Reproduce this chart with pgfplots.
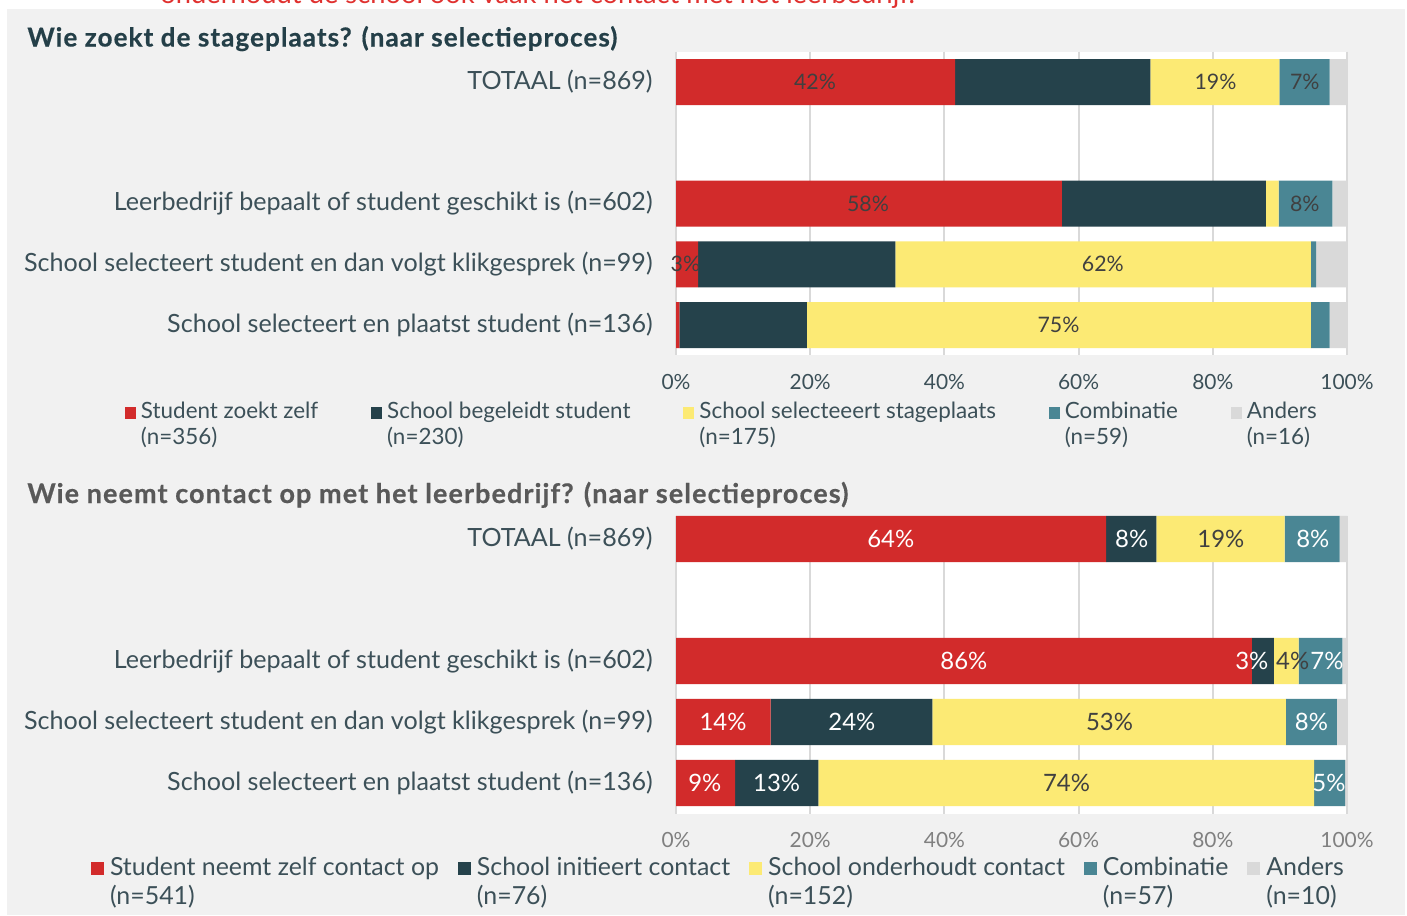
\documentclass[border=0pt]{standalone}
\usepackage{fontspec}
\setmainfont{Lato}
\newfontfamily\titlefont{Lato}[LetterSpace=4.0, BoldFeatures={FakeBold=0.5}]
\usepackage{pgfplots}
\pgfplotsset{compat=1.18}
\usepackage{pgfplotstable}

\definecolor{cRed}{HTML}{D22B2B}
\definecolor{cDark}{HTML}{25424B}
\definecolor{cYel}{HTML}{FCEA74}
\definecolor{cTeal}{HTML}{4A8694}
\definecolor{cGrey}{HTML}{D9D9D9}
\definecolor{bgc}{HTML}{F1F1F1}
\definecolor{slate}{HTML}{3C5058}
\definecolor{titleA}{HTML}{243F48}
\definecolor{titleB}{HTML}{595959}
\definecolor{labc}{HTML}{404040}
\definecolor{tickB}{HTML}{808080}
\definecolor{topred}{HTML}{E0312F}

% Panel 1: Wie zoekt de stageplaats?  (y: 0 TOTAAL, 2,3,4 categories)
\pgfplotstableread{
y a b c d e
0 41.6 29.1 19.2 7.5 2.6
2 57.5 30.4 1.9 8.0 2.2
3 3.3 29.4 61.9 0.8 4.6
4 0.5 19.0 75.1 2.8 2.6
}\dataA
\pgfplotstableread{
x y v
20.7 0 42
80.4 0 19
93.7 0 7
28.6 2 58
93.7 2 8
1.4 3 3
63.6 3 62
57.0 4 75
}\labA

% Panel 2: Wie neemt contact op met het leerbedrijf?
\pgfplotstableread{
y a b c d e
0 64.1 7.5 19.1 8.2 1.1
2 85.8 3.3 3.7 6.5 0.7
3 14.1 24.1 52.7 7.6 1.5
4 8.8 12.4 73.9 4.6 0.3
}\dataB
\pgfplotstableread{
x y v
32.0 0 64
67.9 0 8
94.9 0 8
42.9 2 86
85.8 2 3
97.0 2 7
7.0 3 14
26.2 3 24
94.7 3 8
4.3 4 9
15.0 4 13
97.3 4 5
}\labBw
\pgfplotstableread{
x y v
81.2 0 19
91.9 2 4
64.6 3 53
58.2 4 74
}\labBd

\pgfplotsset{
  panel/.style={
    scale only axis, width=335.5bp, xmin=0, xmax=100, ymax=4.5,
    y dir=reverse, clip=false,
    axis line style={draw=none}, tick style={draw=none},
    major tick length=0pt,
    xtick={0,20,40,60,80,100},
    xticklabel={\pgfmathprintnumber{\tick}\%},
    ytick={0,2,3,4},
    yticklabels={TOTAAL (n=869),Leerbedrijf bepaalt of student geschikt is (n=602),School selecteert student en dan volgt klikgesprek (n=99),School selecteert en plaatst student (n=136)},
    yticklabel style={anchor=east, inner sep=0pt, xshift=-11.5bp, font=\fontsize{12.6}{14}\selectfont, text=slate},
    xmajorgrids, grid style={cGrey, line width=1bp},
    axis background/.style={fill=white},
    /pgf/number format/assume math mode=true,
    xbar stacked, bar width=0.757,
    legend columns=5,
  },
  labels/.style={
    scale only axis, width=335.5bp, xmin=0, xmax=100, ymax=4.5,
    y dir=reverse, clip=false, hide axis,
    /pgf/number format/assume math mode=true,
  },
}

\begin{document}
\begin{tikzpicture}
\begin{scope}[x=0.5bp,y=-0.5bp]
\useasboundingbox (0,0) rectangle (1407,915);
\fill[white] (0,0) rectangle (1407,915);
\fill[bgc] (7,9) rectangle (1405,915);
\node[anchor=base west, inner sep=0pt, text=topred, font=\fontsize{13.7}{16}\selectfont] at (160,3.5) {onderhoudt de school ook vaak het contact met het leerbedrijf.};
\node[anchor=base west, inner sep=0pt, text=titleA, font=\titlefont\fontsize{13.1}{15}\selectfont\bfseries] at (27,46.5) {Wie zoekt de stageplaats? (naar selectieproces)};
\node[anchor=base west, inner sep=0pt, text=titleB, font=\titlefont\fontsize{13.55}{15}\selectfont\bfseries] at (27,503) {Wie neemt contact op met het leerbedrijf? (naar selectieproces)};
\end{scope}

% ---------- Panel 1 ----------
\begin{axis}[panel, at={(338bp,-177.7bp)}, anchor=south west,
  height=151.875bp, ymin=-0.5,
  xticklabel style={anchor=center, yshift=-13.3bp, font=\fontsize{10.5}{12}\selectfont, text=slate},
  legend style={draw=none, fill=none, at={(-0.8212,-0.1353)}, anchor=north west,
    inner sep=0pt, outer sep=0pt, cells={anchor=base west},
    font=\fontsize{11.25}{13}\selectfont, text=slate,
    /tikz/every odd column/.append style={column sep=0.5bp},
    /tikz/every even column/.append style={column sep=24.5bp}},
  legend image code/.code={\fill[#1] (0bp,0bp) rectangle (5.5bp,6bp);},
]
\addplot[fill=cRed, draw=none] table[x=a, y=y] {\dataA};
\addlegendentry{\begin{tabular}[t]{@{}l@{}}Student zoekt zelf\\(n=356)\end{tabular}}
\addplot[fill=cDark, draw=none] table[x=b, y=y] {\dataA};
\addlegendentry{\begin{tabular}[t]{@{}l@{}}School begeleidt student\\(n=230)\end{tabular}}
\addplot[fill=cYel, draw=none] table[x=c, y=y] {\dataA};
\addlegendentry{\begin{tabular}[t]{@{}l@{}}School selecteeert stageplaats\\(n=175)\end{tabular}}
\addplot[fill=cTeal, draw=none] table[x=d, y=y] {\dataA};
\addlegendentry{\begin{tabular}[t]{@{}l@{}}Combinatie\\(n=59)\end{tabular}}
\addplot[fill=cGrey, draw=none] table[x=e, y=y] {\dataA};
\addlegendentry{\begin{tabular}[t]{@{}l@{}}Anders\\(n=16)\end{tabular}}
\end{axis}
\begin{axis}[labels, at={(338bp,-177.7bp)}, anchor=south west,
  height=151.875bp, ymin=-0.5]
\addplot[draw=none, mark=none, point meta=explicit,
  nodes near coords={\pgfmathprintnumber[fixed,precision=0]{\pgfplotspointmeta}\%},
  every node near coord/.append style={anchor=center, inner sep=0pt, text=labc, font=\fontsize{10.7}{12}\selectfont}]
  table[x=x, y=y, meta=v] {\labA};
\end{axis}

% ---------- Panel 2 ----------
\begin{axis}[panel, at={(338bp,-406.75bp)}, anchor=south west,
  height=148.85bp, ymin=-0.38,
  xticklabel style={anchor=center, yshift=-13.3bp, font=\fontsize{10.5}{12}\selectfont, text=tickB},
  legend style={draw=none, fill=none, at={(-0.8718,-0.126)}, anchor=north west,
    inner sep=0pt, outer sep=0pt, cells={anchor=base west},
    font=\fontsize{12.5}{14.5}\selectfont, text=slate,
    /tikz/every odd column/.append style={column sep=1bp},
    /tikz/every even column/.append style={column sep=7.5bp}},
  legend image code/.code={\fill[#1] (0bp,0bp) rectangle (6.5bp,6.5bp);},
]
\addplot[fill=cRed, draw=none] table[x=a, y=y] {\dataB};
\addlegendentry{\begin{tabular}[t]{@{}l@{}}Student neemt zelf contact op\\(n=541)\end{tabular}}
\addplot[fill=cDark, draw=none] table[x=b, y=y] {\dataB};
\addlegendentry{\begin{tabular}[t]{@{}l@{}}School initieert contact\\(n=76)\end{tabular}}
\addplot[fill=cYel, draw=none] table[x=c, y=y] {\dataB};
\addlegendentry{\begin{tabular}[t]{@{}l@{}}School onderhoudt contact\\(n=152)\end{tabular}}
\addplot[fill=cTeal, draw=none] table[x=d, y=y] {\dataB};
\addlegendentry{\begin{tabular}[t]{@{}l@{}}Combinatie\\(n=57)\end{tabular}}
\addplot[fill=cGrey, draw=none] table[x=e, y=y] {\dataB};
\addlegendentry{\begin{tabular}[t]{@{}l@{}}Anders\\(n=10)\end{tabular}}
\end{axis}
\begin{axis}[labels, at={(338bp,-406.75bp)}, anchor=south west,
  height=148.85bp, ymin=-0.38]
\addplot[draw=none, mark=none, point meta=explicit,
  nodes near coords={\pgfmathprintnumber[fixed,precision=0]{\pgfplotspointmeta}\%},
  every node near coord/.append style={anchor=center, inner sep=0pt, text=white, font=\fontsize{12}{14}\selectfont}]
  table[x=x, y=y, meta=v] {\labBw};
\addplot[draw=none, mark=none, point meta=explicit,
  nodes near coords={\pgfmathprintnumber[fixed,precision=0]{\pgfplotspointmeta}\%},
  every node near coord/.append style={anchor=center, inner sep=0pt, text=labc, font=\fontsize{12}{14}\selectfont}]
  table[x=x, y=y, meta=v] {\labBd};
\end{axis}
\end{tikzpicture}
\end{document}
